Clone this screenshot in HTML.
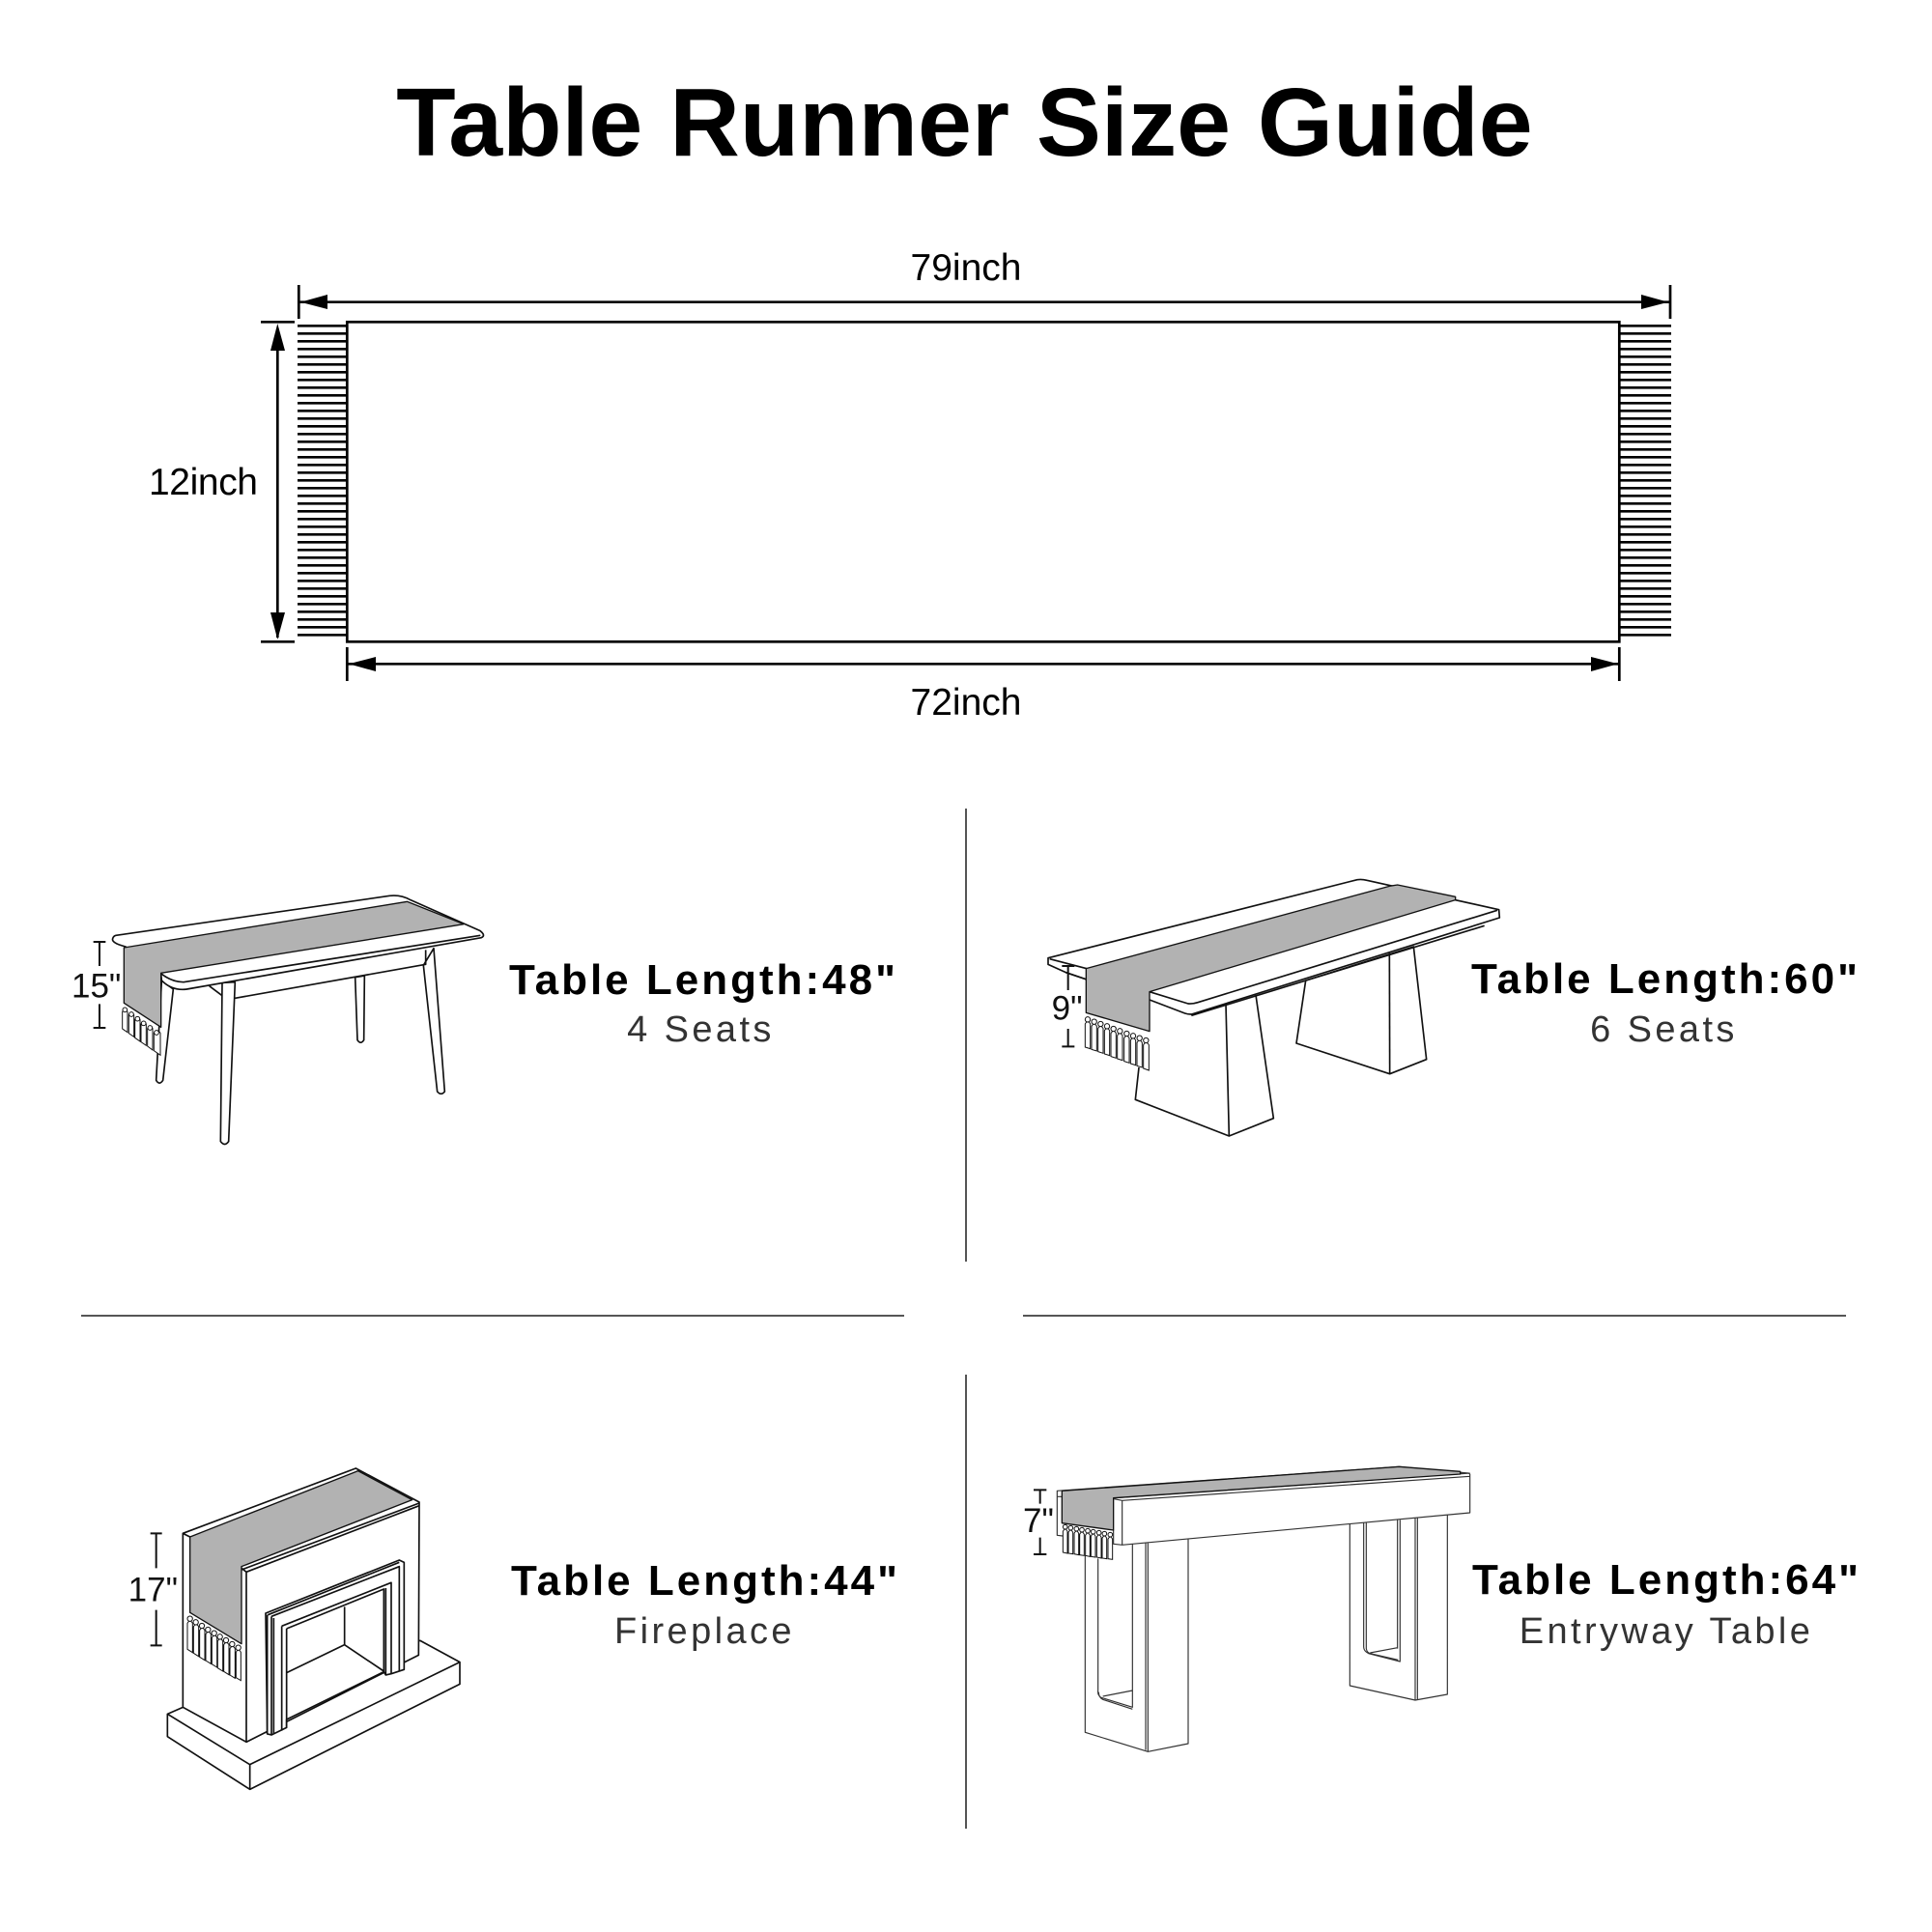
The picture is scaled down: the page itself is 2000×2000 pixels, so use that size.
<!DOCTYPE html>
<html><head><meta charset="utf-8"><style>
html,body{margin:0;padding:0;background:#fff}
svg{display:block}
text{font-family:"Liberation Sans",sans-serif}
.h{font-weight:700;font-size:44px;letter-spacing:3px;fill:#000}
.s{font-size:38px;letter-spacing:3.4px;fill:#333;text-anchor:middle}
.d{font-size:39px;fill:#000}
.z{font-size:105px;fill:#111}
.l{fill:#fff;stroke:#111;stroke-width:5;stroke-linejoin:round}
.o{fill:none;stroke:#111;stroke-width:5;stroke-linejoin:round}
.f{fill:#fff;stroke:none}
.m{fill:none;stroke:#111;stroke-width:6}
.g{fill:#b2b2b2;stroke:#111;stroke-width:4;stroke-linejoin:round}
.t{fill:#fff;stroke:#111;stroke-width:3}
.e{fill:none;stroke:#333;stroke-width:3.5;stroke-linejoin:round}
</style></head><body>
<svg xmlns="http://www.w3.org/2000/svg" width="2000" height="2000" viewBox="0 0 2000 2000">
<rect width="2000" height="2000" fill="#fff"/>
<text x="998.5" y="161" text-anchor="middle" font-size="100.5" font-weight="700">Table Runner Size Guide</text>

<!-- main runner -->
<g stroke="#000" stroke-width="2.7" fill="none">
<rect x="359.3" y="333.3" width="1317" height="331"/>
<path d="M309.3 295V330M1729 295V330M309 312.7H1729M359.3 670V705M1676.3 670V705M359 687.3H1676M270 333.3H305M270 664.3H305M287.3 340V660"/>
<path d="M308 337.3H359M308 345.3H359M308 353.3H359M308 361.3H359M308 369.3H359M308 377.3H359M308 385.3H359M308 393.3H359M308 401.3H359M308 409.3H359M308 417.3H359M308 425.3H359M308 433.3H359M308 441.3H359M308 449.3H359M308 457.3H359M308 465.3H359M308 473.3H359M308 481.3H359M308 489.3H359M308 497.3H359M308 505.3H359M308 513.3H359M308 521.3H359M308 529.3H359M308 537.3H359M308 545.3H359M308 553.3H359M308 561.3H359M308 569.3H359M308 577.3H359M308 585.3H359M308 593.3H359M308 601.3H359M308 609.3H359M308 617.3H359M308 625.3H359M308 633.3H359M308 641.3H359M308 649.3H359M308 657.3H359"/>
<path d="M1676 337.3H1730M1676 345.3H1730M1676 353.3H1730M1676 361.3H1730M1676 369.3H1730M1676 377.3H1730M1676 385.3H1730M1676 393.3H1730M1676 401.3H1730M1676 409.3H1730M1676 417.3H1730M1676 425.3H1730M1676 433.3H1730M1676 441.3H1730M1676 449.3H1730M1676 457.3H1730M1676 465.3H1730M1676 473.3H1730M1676 481.3H1730M1676 489.3H1730M1676 497.3H1730M1676 505.3H1730M1676 513.3H1730M1676 521.3H1730M1676 529.3H1730M1676 537.3H1730M1676 545.3H1730M1676 553.3H1730M1676 561.3H1730M1676 569.3H1730M1676 577.3H1730M1676 585.3H1730M1676 593.3H1730M1676 601.3H1730M1676 609.3H1730M1676 617.3H1730M1676 625.3H1730M1676 633.3H1730M1676 641.3H1730M1676 649.3H1730M1676 657.3H1730"/>
</g>
<g fill="#000">
<polygon points="311,312.7 339,305 339,320"/>
<polygon points="1727,312.7 1699,305 1699,320"/>
<polygon points="361,687.3 389,680 389,695"/>
<polygon points="1675,687.3 1647,680 1647,695"/>
<polygon points="287.3,335 280,363 295,363"/>
<polygon points="287.3,662 280,634 295,634"/>
</g>
<text class="d" x="1000" y="290" text-anchor="middle">79inch</text>
<text class="d" x="1000" y="740" text-anchor="middle">72inch</text>
<text class="d" x="154" y="512" textLength="113">12inch</text>

<!-- dividers -->
<g stroke="#555" stroke-width="2" fill="none">
<path d="M1000 837V1306M1000 1423V1893M84 1362H936M1059 1362H1911"/>
</g>

<!-- panel labels -->
<text class="h" x="527" y="1029">Table Length:48"</text>
<text class="s" x="725.5" y="1078">4 Seats</text>
<text class="h" x="1523" y="1028">Table Length:60"</text>
<text class="s" x="1722.5" y="1078">6 Seats</text>
<text class="h" x="529" y="1651">Table Length:44"</text>
<text class="s" x="729.5" y="1701">Fireplace</text>
<text class="h" x="1524" y="1650">Table Length:64"</text>
<text class="s" x="1725" y="1701">Entryway Table</text>

<!-- table 1 -->
<g transform="translate(50,900) scale(.33333)">
<path class="l" d="M540 352L535 845Q548 862 560 845L580 350Z"/>
<path class="l" d="M953 335L960 530Q970 545 980 530L982 330Z"/>
<path class="l" d="M1165 298L1208 690Q1220 704 1231 690L1197 245Z"/>
<path class="l" d="M352 345L335 655Q345 672 356 655L388 372Z"/>
<path class="o" d="M580 400L1172 295V250M500 362L540 392"/>
<path class="l" d="M210 205L1060 82Q1095 78 1125 95L1340 190Q1360 205 1345 212L430 372Q385 378 352 345L350 325L240 240Q195 228 200 215Q202 207 210 205Z"/>
<path class="o" d="M352 325Q385 350 420 350L1342 205"/>
<path class="g" d="M235 243L1115 100L1290 170L350 322V490L235 415Z"/>
<path class="t" d="M230 442V495L246 506V442Q238 428 230 442ZM250 452V509L266 520V452Q258 438 250 452ZM269 466V523L285 534V466Q277 452 269 466ZM288 480V536L304 547V480Q296 466 288 480ZM308 494V549L324 561V494Q316 480 308 494ZM328 508V563L348 577V508Q338 494 328 508Z"/>
<circle class="t" cx="238" cy="436" r="7"/><circle class="t" cx="258" cy="450" r="7"/><circle class="t" cx="277" cy="464" r="7"/><circle class="t" cx="296" cy="478" r="7"/><circle class="t" cx="316" cy="492" r="7"/><circle class="t" cx="336" cy="507" r="7"/>
<path class="m" d="M140 225H178M159 225V300M159 418V492M140 492H178"/>
<text class="z" x="72" y="397">15"</text>
</g>

<!-- table 2 -->
<g transform="translate(1070,890) scale(.33333)">
<path class="l" d="M845 375L816 570L1106 665L1220 620L1180 270Z"/>
<path class="o" d="M1105 290L1106 665"/>
<path class="o" d="M327 645L316 745L607 858L745 803L690 420M597 448L607 858"/>
<path class="l" d="M45 305L1005 62Q1020 60 1035 64L1445 155L1447 180L490 480Q478 480 470 477L360 435L165 372L100 350L45 325Z"/>
<path class="o" d="M50 308L165 338M360 410L480 447Q495 448 510 443L1440 157M490 484L1400 205M100 350L165 372"/>
<path class="g" d="M163 338L1105 82L1130 78L1310 115V125L360 410V533L163 475Z"/>
<path class="t" d="M160 510V582L176 587V510Q168 496 160 510ZM180 517V589L196 594V517Q188 503 180 517ZM200 524V596L216 601V524Q208 510 200 524ZM220 531V603L236 608V531Q228 517 220 531ZM240 539V611L256 616V539Q248 525 240 539ZM260 546V618L276 623V546Q268 532 260 546ZM281 554V626L297 631V554Q289 540 281 554ZM301 561V633L317 638V561Q309 547 301 561ZM321 568V640L337 645V568Q329 554 321 568ZM341 575V648L358 654V575Q349 561 341 575Z"/>
<circle class="t" cx="168" cy="496" r="8"/><circle class="t" cx="188" cy="503" r="8"/><circle class="t" cx="208" cy="510" r="8"/><circle class="t" cx="228" cy="517" r="8"/><circle class="t" cx="248" cy="525" r="8"/><circle class="t" cx="268" cy="532" r="8"/><circle class="t" cx="289" cy="540" r="8"/><circle class="t" cx="309" cy="547" r="8"/><circle class="t" cx="329" cy="554" r="8"/><circle class="t" cx="349" cy="561" r="8"/>
<path class="m" d="M88 330H127M107 330V405M107 525V580M88 580H127"/>
<text class="z" x="56" y="497">9"</text>
</g>

<!-- fireplace -->
<g transform="translate(120,1510) scale(.33333)">
<path class="l" d="M160 793L208 772L945 565L1068 632V700L416 1027L160 863Z"/>
<path class="o" d="M160 793L416 950L1068 632M416 950V1027"/>
<path class="l" d="M208 232L745 30L942 135L940 610L405 880L208 772Z"/>
<path class="o" d="M390 345L942 138M405 352L942 146M405 352V880M390 340L405 352"/>
<path class="o" d="M208 232L230 243"/>
<path class="l" d="M465 480L880 315L895 322V655L855 668L838 672L832 662L530 810V835L483 858L470 855Z"/>
<path class="o" d="M472 485L880 322M470 485V855M483 490L880 335V660M483 490V858M490 495V855M515 520L855 385V668M515 520V845M530 528L832 405V662M530 528V835M838 402V672M710 460V578M530 665L710 578L832 660"/>
<path class="g" d="M230 243L752 38L920 128L390 335V575L230 478Z"/>
<path class="t" d="M222 511V592L238 602V511Q230 497 222 511ZM241 522V604L257 614V522Q249 508 241 522ZM260 533V616L276 626V533Q268 519 260 533ZM279 545V627L295 637V545Q287 531 279 545ZM298 556V638L314 648V556Q306 542 298 556ZM316 567V650L332 660V567Q324 553 316 567ZM335 578V661L351 671V578Q343 564 335 578ZM354 590V672L370 682V590Q362 576 354 590ZM373 601V680L388 689V601Q380 587 373 601Z"/>
<circle class="t" cx="230" cy="497" r="8"/><circle class="t" cx="248" cy="508" r="8"/><circle class="t" cx="267" cy="519" r="8"/><circle class="t" cx="286" cy="531" r="8"/><circle class="t" cx="305" cy="542" r="8"/><circle class="t" cx="323" cy="553" r="8"/><circle class="t" cx="342" cy="564" r="8"/><circle class="t" cx="361" cy="576" r="8"/><circle class="t" cx="380" cy="587" r="8"/>
<path class="m" d="M107 232H143M125 232V340M125 470V580M107 580H143"/>
<text class="z" x="38" y="442">17"</text>
</g>

<!-- entryway -->
<g transform="translate(1050,1510) scale(.33333)">
<path class="e" d="M220 300V850L415 910L540 885V250M415 262V910M408 262V905M367 265V772L270 742Q258 735 260 720V310M367 778L275 748Q262 742 262 725M275 738L367 720"/>
<path class="e" d="M1042 200V705L1245 750L1345 732V175M1245 182V750M1252 182V750M1198 190V630L1100 605Q1085 597 1085 585V195M1093 195V590Q1095 602 1105 605L1192 625M1105 603L1190 587M1190 190V590"/>
<path class="f" d="M133 100L1195 25L1410 45L1415 48V168L335 268L308 265V240L133 238Z"/>
<path class="e" d="M150 240L133 238V100L1195 25L1410 45L1415 48V168L335 268L308 265V222M310 122L1415 45M310 125L335 130L1415 55M335 130V268M133 118H148"/>
<path class="g" d="M148 100L1195 25L1385 40V48L308 122V222L148 200Z"/>
<path class="t" d="M151 226V291L165 294V226Q158 212 151 226ZM168 229V294L182 296V229Q175 215 168 229ZM186 232V296L200 299V232Q193 218 186 232ZM203 235V299L217 301V235Q210 221 203 235ZM221 238V301L235 304V238Q228 224 221 238ZM238 241V304L252 306V241Q245 227 238 241ZM256 244V306L270 309V244Q263 230 256 244ZM273 247V309L287 311V247Q280 233 273 247ZM291 250V311L305 313V250Q298 236 291 250Z"/>
<circle class="t" cx="158" cy="212" r="7"/><circle class="t" cx="175" cy="215" r="7"/><circle class="t" cx="193" cy="218" r="7"/><circle class="t" cx="210" cy="221" r="7"/><circle class="t" cx="228" cy="224" r="7"/><circle class="t" cx="245" cy="227" r="7"/><circle class="t" cx="263" cy="230" r="7"/><circle class="t" cx="280" cy="233" r="7"/><circle class="t" cx="298" cy="236" r="7"/>
<path class="m" d="M60 97H100M80 97V140M80 245V297M60 297H100"/>
<text class="z" x="27" y="228">7"</text>
</g>
</svg>
</body></html>
